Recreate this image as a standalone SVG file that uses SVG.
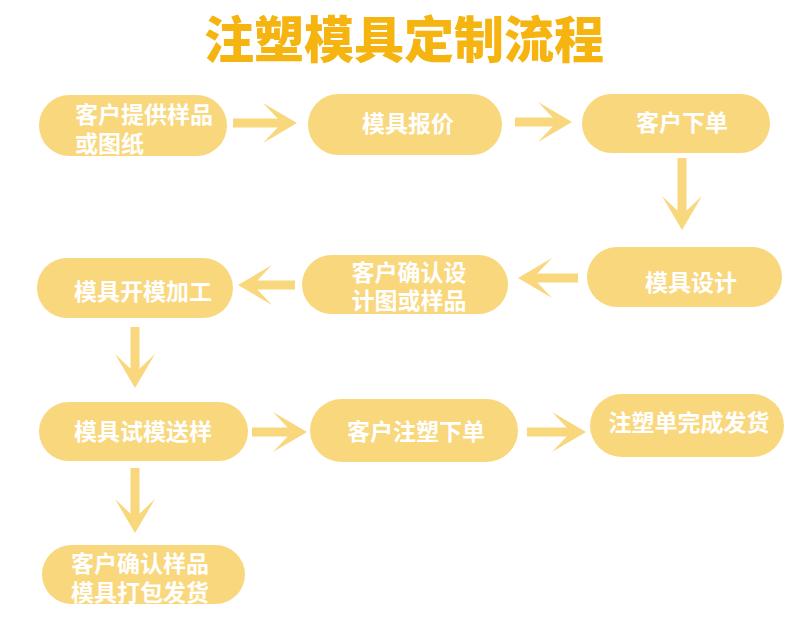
<svg xmlns="http://www.w3.org/2000/svg" xmlns:xlink="http://www.w3.org/1999/xlink" width="800" height="642" viewBox="0 0 800 642">
<style>
.node{fill:#F9D77D}
.lbl{font-family:"Noto Sans CJK SC","Noto Sans",sans-serif;font-weight:bold;font-size:23px;fill:#ffffff;text-anchor:middle}
.title{font-family:"Noto Sans CJK SC","Noto Sans",sans-serif;font-weight:900;font-size:50px;fill:#F5B40F;text-anchor:middle}
.shaft{stroke:#F9D77D;stroke-width:9;fill:none}
.head{fill:#F9D77D}
</style>
<defs>
<path id="head" d="M0,0 L-34,-20 L-15,0 L-34,20 Z"/>
</defs>
<rect width="800" height="642" fill="#ffffff"/>
<text class="title" x="404" y="58">注塑模具定制流程</text>
<g id="connectors">
<g transform="translate(297,123)"><line class="shaft" x1="-64" y1="0" x2="-14" y2="0"/><use href="#head" class="head"/></g>
<g transform="translate(572,122)"><line class="shaft" x1="-57" y1="0" x2="-14" y2="0"/><use href="#head" class="head"/></g>
<g transform="translate(682,230) rotate(90)"><line class="shaft" x1="-72" y1="0" x2="-14" y2="0"/><use href="#head" class="head"/></g>
<g transform="translate(518,278) rotate(180)"><line class="shaft" x1="-60" y1="0" x2="-14" y2="0"/><use href="#head" class="head"/></g>
<g transform="translate(238,285) rotate(180)"><line class="shaft" x1="-57" y1="0" x2="-14" y2="0"/><use href="#head" class="head"/></g>
<g transform="translate(135,388) rotate(90)"><line class="shaft" x1="-61" y1="0" x2="-14" y2="0"/><use href="#head" class="head"/></g>
<g transform="translate(307,432)"><line class="shaft" x1="-55" y1="0" x2="-14" y2="0"/><use href="#head" class="head"/></g>
<g transform="translate(586,432)"><line class="shaft" x1="-59" y1="0" x2="-14" y2="0"/><use href="#head" class="head"/></g>
<g transform="translate(135,533) rotate(90)"><line class="shaft" x1="-65" y1="0" x2="-14" y2="0"/><use href="#head" class="head"/></g>
</g>
<g id="n1"><rect class="node" x="39" y="95" width="188" height="61" rx="30.5"/>
<text class="lbl" style="text-anchor:start" x="75" y="122.5">客户提供样品</text>
<text class="lbl" style="text-anchor:start" x="75" y="151.5">或图纸</text></g>
<g id="n2"><rect class="node" x="308" y="94" width="194" height="61" rx="30.5"/>
<text class="lbl" x="408" y="132">模具报价</text></g>
<g id="n3"><rect class="node" x="582" y="94" width="188" height="59" rx="29.5"/>
<text class="lbl" x="682" y="131">客户下单</text></g>
<g id="n4"><rect class="node" x="587" y="247" width="195" height="60" rx="30"/>
<text class="lbl" x="691" y="291">模具设计</text></g>
<g id="n5"><rect class="node" x="302" y="255" width="206" height="59" rx="29.5"/>
<text class="lbl" x="409" y="280.5">客户确认设</text>
<text class="lbl" x="409" y="308.5">计图或样品</text></g>
<g id="n6"><rect class="node" x="37" y="258" width="196" height="60" rx="30"/>
<text class="lbl" x="143" y="300">模具开模加工</text></g>
<g id="n7"><rect class="node" x="39" y="402" width="209" height="59" rx="29.5"/>
<text class="lbl" x="143" y="440">模具试模送样</text></g>
<g id="n8"><rect class="node" x="42" y="545" width="203" height="59" rx="29.5"/>
<text class="lbl" x="140" y="571.5">客户确认样品</text>
<text class="lbl" x="140" y="600.5">模具打包发货</text></g>
<g id="n9"><rect class="node" x="310" y="399" width="208" height="63" rx="31.5"/>
<text class="lbl" x="416" y="440">客户注塑下单</text></g>
<g id="n10"><rect class="node" x="590" y="394" width="194" height="63" rx="31.5"/>
<text class="lbl" x="689" y="431">注塑单完成发货</text></g>
</svg>
